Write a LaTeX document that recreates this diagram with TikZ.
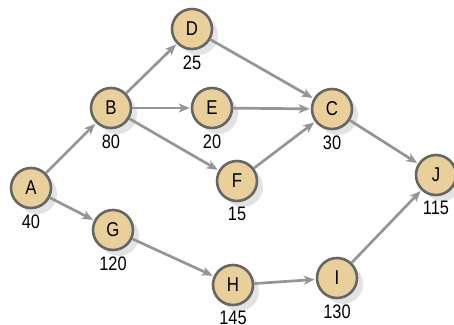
\documentclass[tikz,border=0pt]{standalone}
\usepackage{fontspec}
\setmainfont{Liberation Sans}[FakeStretch=0.84]
\usetikzlibrary{arrows.meta,shadows}
\definecolor{nodefill}{HTML}{E9D09A}
\definecolor{nodeline}{HTML}{666666}
\definecolor{edgecol}{HTML}{959595}
\tikzset{
  task/.style={circle, minimum size=40pt, inner sep=0pt, fill=nodefill, draw=nodeline, line width=2.6pt,
    font=\fontsize{20}{20}\selectfont,
    drop shadow={shadow xshift=6pt, shadow yshift=-6pt, fill=black!11, opacity=1},
    label={[lab]below:#1}},
  lab/.style={font=\fontsize{19.5}{19.5}\selectfont, inner sep=0pt, label distance=5pt},
  flow/.style={draw=edgecol, line width=2.7pt, -{Stealth[length=11pt,width=9pt,inset=3pt]}, shorten >=1pt}
}
\begin{document}
\begin{tikzpicture}[x=1pt,y=-1pt]
\useasboundingbox (0,0) rectangle (454,324);
\node[task=40]  (A) at (31,188) {A};
\node[task=80]  (B) at (111,108) {B};
\node[task=25]  (D) at (192,29) {D};
\node[task=20]  (E) at (212,108) {E};
\node[task=30]  (C) at (332,109) {C};
\node[task=15]  (F) at (237,181) {F};
\node[task=115] (J) at (436,175) {J};
\node[task=120] (G) at (113,230) {G};
\node[task=145] (H) at (233,285) {H};
\node[task=130] (I) at (337,278) {I};
\draw[flow] (A) -- (B);
\draw[flow] (A) -- (G);
\draw[flow] (B) -- (D);
\draw[flow] (B) -- (E);
\draw[flow] (B) -- (F);
\draw[flow] (D) -- (C);
\draw[flow] (E) -- (C);
\draw[flow] (F) -- (C);
\draw[flow] (C) -- (J);
\draw[flow] (G) -- (H);
\draw[flow] (H) -- (I);
\draw[flow] (I) -- (J);
\end{tikzpicture}
\end{document}
